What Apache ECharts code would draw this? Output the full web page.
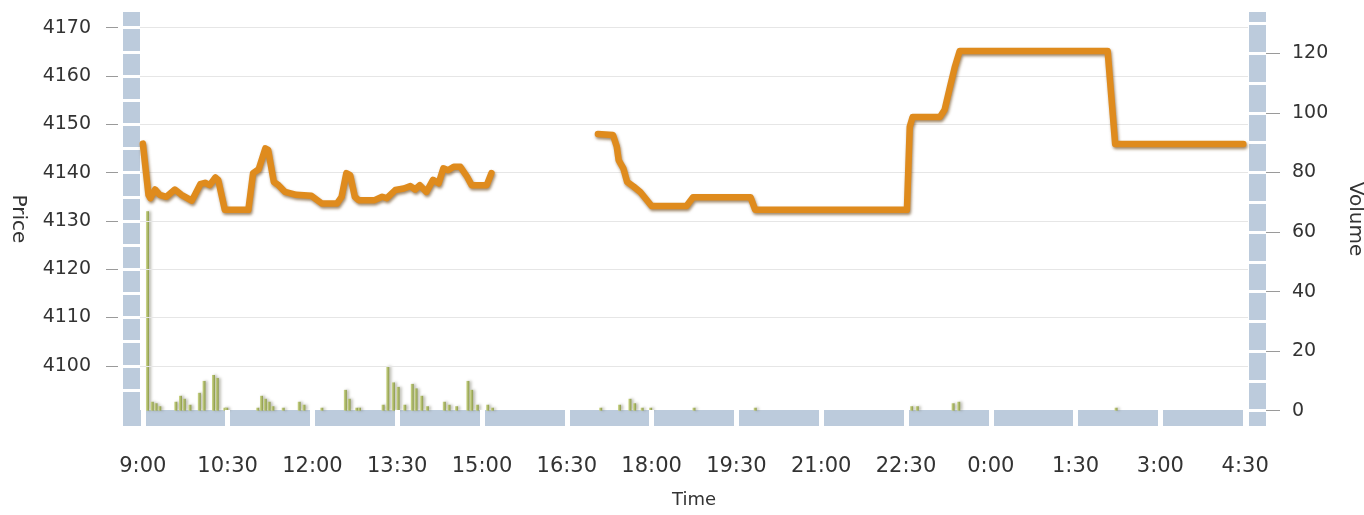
<!DOCTYPE html>
<html>
<head>
<meta charset="utf-8">
<script src="https://cdn.jsdelivr.net/npm/echarts@6/dist/echarts.min.js"></script>
<style>
	html, body { margin: 0; padding: 0; background: #fff; }
	#chart { width: 1364px; height: 515px; }
</style>
</head>
<body>
<div id="chart"></div>
<script>
// minutes after 9:00
const timeTicks = [0, 90, 180, 270, 360, 450, 540, 630, 720, 810, 900, 990, 1080, 1170];
const timeLabels = ['9:00', '10:30', '12:00', '13:30', '15:00', '16:30', '18:00', '19:30', '21:00', '22:30', '0:00', '1:30', '3:00', '4:30'];
const priceTicks = [4100, 4110, 4120, 4130, 4140, 4150, 4160, 4170];
const priceGaps = [4095, 4100, 4105, 4110, 4115, 4120, 4125, 4130, 4135, 4140, 4145, 4150, 4155, 4160, 4165, 4170];
const volumeTicks = [0, 20, 40, 60, 80, 100, 120];
const volumeGaps = [0, 10, 20, 30, 40, 50, 60, 70, 80, 90, 100, 110, 120, 130];

const priceTime = [0, 6, 8, 13, 18, 25, 34, 41, 52, 61, 66, 71, 77, 80, 87, 112, 117, 123, 130, 133,
	139, 144, 151, 163, 179, 190, 206, 211, 216, 220, 225, 229, 246, 254, 259, 268, 277, 284, 289, 294,
	301, 308, 314, 319, 324, 330, 337, 344, 349, 365, 370, 420,
	483, 499, 503, 505, 510, 514, 521, 528, 540, 577, 584, 645, 650, 811, 814, 817, 846, 851, 857, 862,
	867, 1024, 1032, 1168];
const priceValue = [4146, 4135.4, 4134.7, 4136.5, 4135.4, 4135, 4136.5, 4135.4, 4134.2, 4137.6, 4137.9, 4137.4, 4139, 4138.5, 4132.3, 4132.3, 4139.9, 4140.7, 4145, 4144.7,
	4138.1, 4137.4, 4136, 4135.4, 4135.2, 4133.6, 4133.6, 4135, 4139.9, 4139.5, 4135, 4134.3, 4134.3, 4135, 4134.7, 4136.4, 4136.7, 4137.2, 4136.5, 4137.4,
	4136, 4138.5, 4137.8, 4140.9, 4140.5, 4141.2, 4141.2, 4139.2, 4137.4, 4137.4, 4139.9, null,
	4148, 4147.8, 4145.4, 4142.6, 4140.9, 4138.1, 4137.1, 4136, 4133.1, 4133.1, 4134.9, 4134.9, 4132.3, 4132.3, 4149.5, 4151.5, 4151.5, 4153, 4158, 4162,
	4165.2, 4165.2, 4145.9, 4145.9];

const volumeTime = [5, 10, 14, 18, 35, 40, 44, 50, 60, 65, 75, 79, 87, 89, 122, 126, 130, 134, 138, 149,
	166, 171, 190, 215, 219, 227, 230, 255, 260, 266, 271, 278, 286, 290, 296, 302, 320, 325, 333, 345,
	349, 355, 366, 371, 486, 506, 517, 522, 530, 539, 585, 650, 816, 822, 860, 866, 1033];
const volumeValue = [67, 3, 2.5, 1.5, 3, 5, 4, 2, 6, 10, 12, 11, 1, 1, 1, 5, 4, 3, 1.5, 1,
	3, 2, 1, 7, 4, 1, 1, 2, 15, 9.5, 8, 2, 9, 7.5, 5, 1.5, 3, 2, 1.5, 10,
	7, 2, 2, 1, 1, 2, 4, 2.5, 1, 1, 1, 1, 1.5, 1.5, 2.5, 3, 1];

const barColor = '#bccbdc';
const textColor = '#333';
const fontFamily = '"DejaVu Sans", Verdana, sans-serif';
const priceMin = 4087.54, priceMax = 4173.25;
const volumeMin = -5.14, volumeMax = 133.9;
const timeMin = -3, timeMax = 1173;

let priceData = priceTime.map((t, i) => [t, priceValue[i]]);
let volumeData = volumeTime.map((t, i) => [t, volumeValue[i]]);

let myChart = echarts.init(document.getElementById('chart'));

function yAxisBase(pos, min, max) {
	return {
		type: 'value',
		position: pos,
		min: min,
		max: max,
		axisLine: { show: false, onZero: false },
		axisTick: { show: false },
		axisLabel: { show: false },
		splitLine: { show: false }
	};
}

let plainNumber = function(v) {
	return String(Math.round(v));
};

let option = {
	animation: false,
	backgroundColor: '#fff',
	grid: { left: 140, right: 116, top: 12, bottom: 89, containLabel: false, outerBoundsMode: 'none' },
	xAxis: [
		{
			type: 'value', min: timeMin, max: timeMax, position: 'bottom', offset: -8, z: 1,
			axisLine: { show: true, onZero: false, lineStyle: { color: barColor, width: 16, cap: 'butt' } },
			axisTick: { show: false }, axisLabel: { show: false }, splitLine: { show: false }
		},
		{
			type: 'value', min: timeMin, max: timeMax, position: 'bottom', offset: -16, z: 3,
			name: 'Time', nameLocation: 'middle', nameGap: 81,
			nameTextStyle: { color: textColor, fontSize: 18, fontFamily: fontFamily },
			axisLine: { show: false, onZero: false },
			axisTick: { show: true, customValues: timeTicks, length: 16, lineStyle: { color: '#fff', width: 5 } },
			axisLabel: {
				show: true, customValues: timeTicks, margin: 46,
				color: textColor, fontSize: 21, fontFamily: fontFamily,
				formatter: function(v) {
					return timeLabels[timeTicks.indexOf(Math.round(v))];
				}
			},
			splitLine: { show: false }
		}
	],
	yAxis: [
		Object.assign(yAxisBase('left', priceMin, priceMax), {
			offset: 9, z: 1,
			axisLine: { show: true, onZero: false, lineStyle: { color: barColor, width: 17, cap: 'butt' } }
		}),
		Object.assign(yAxisBase('left', priceMin, priceMax), {
			offset: 22, z: 3,
			name: 'Price', nameLocation: 'middle', nameRotate: -90, nameGap: 90,
			nameTextStyle: { color: textColor, fontSize: 20, fontFamily: fontFamily },
			axisTick: { show: true, customValues: priceTicks, length: 12, lineStyle: { color: '#9a9a9a', width: 1 } },
			axisLabel: { show: true, customValues: priceTicks, margin: 27, color: textColor, fontSize: 19, fontFamily: fontFamily, formatter: plainNumber },
			splitLine: { show: true, lineStyle: { color: '#e6e6e6', width: 1 } }
		}),
		Object.assign(yAxisBase('left', priceMin, priceMax), {
			offset: 0, z: 3,
			axisTick: { show: true, customValues: priceGaps, length: 18, lineStyle: { color: '#fff', width: 3 } }
		}),
		Object.assign(yAxisBase('right', volumeMin, volumeMax), {
			offset: 9, z: 1,
			axisLine: { show: true, onZero: false, lineStyle: { color: barColor, width: 17, cap: 'butt' } }
		}),
		Object.assign(yAxisBase('right', volumeMin, volumeMax), {
			offset: 18, z: 3,
			name: 'Volume', nameLocation: 'middle', nameRotate: -90, nameGap: 79,
			nameTextStyle: { color: textColor, fontSize: 20, fontFamily: fontFamily },
			axisTick: { show: true, customValues: volumeTicks, length: 14, lineStyle: { color: '#9a9a9a', width: 1 } },
			axisLabel: { show: true, customValues: volumeTicks, margin: 26, color: textColor, fontSize: 19, fontFamily: fontFamily, formatter: plainNumber }
		}),
		Object.assign(yAxisBase('right', volumeMin, volumeMax), {
			offset: 0, z: 3,
			axisTick: { show: true, customValues: volumeGaps, length: 18, lineStyle: { color: '#fff', width: 3 } }
		})
	],
	series: [
		{
			name: 'Volume',
			type: 'bar',
			xAxisIndex: 0,
			yAxisIndex: 3,
			barWidth: 3,
			data: volumeData,
			itemStyle: {
				color: new echarts.graphic.LinearGradient(0, 0, 1, 0, [
					{ offset: 0, color: '#cfd98a' },
					{ offset: 1, color: '#8a984a' }
				]),
				shadowColor: 'rgba(110, 110, 90, 0.5)',
				shadowBlur: 3,
				shadowOffsetX: 2
			}
		},
		{
			name: 'Price',
			type: 'line',
			xAxisIndex: 0,
			yAxisIndex: 0,
			showSymbol: false,
			symbol: 'none',
			connectNulls: false,
			data: priceData,
			lineStyle: {
				color: '#df8b1d',
				width: 6.5,
				cap: 'round',
				join: 'round',
				shadowColor: 'rgba(100, 60, 10, 0.6)',
				shadowBlur: 3,
				shadowOffsetX: 1,
				shadowOffsetY: 2
			}
		}
	]
};

option && myChart.setOption(option);
</script>
</body>
</html>
